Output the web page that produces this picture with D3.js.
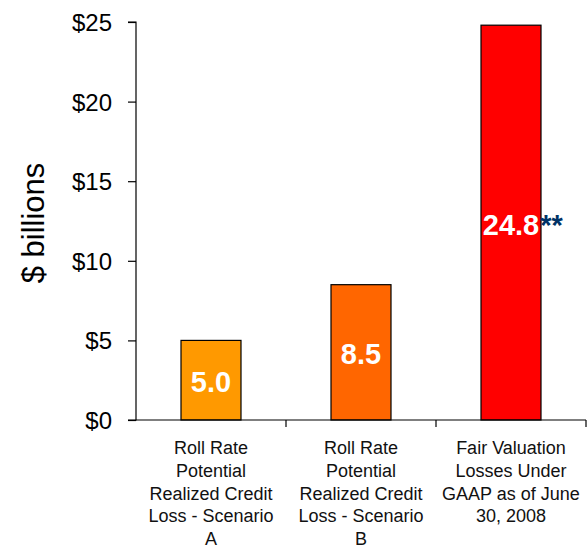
<!DOCTYPE html>
<html><head><meta charset="utf-8">
<script src="https://cdn.jsdelivr.net/npm/d3@7"></script>
<style>body{margin:0;background:#fff}svg{display:block}text{font-family:Arial,"Liberation Sans",sans-serif}</style>
</head><body><svg id="c" width="587" height="549"></svg>
<script>
const categories = [
  ["Roll Rate","Potential","Realized Credit","Loss - Scenario","A"],
  ["Roll Rate","Potential","Realized Credit","Loss - Scenario","B"],
  ["Fair Valuation","Losses Under","GAAP as of June","30, 2008"]
];
const values = [5.0, 8.5, 24.8];
const valueLabels = ["5.0","8.5","24.8"];
const suffixes = ["","","**"];
const colors = ["#FF9900","#FF6600","#FF0000"];
const yTicks = [0,5,10,15,20,25];

const svg = d3.select("#c");
const x0 = 136, x1 = 586, yTop = 22, yBot = 420;
const x = d3.scaleBand().domain(d3.range(categories.length)).range([x0,x1]).paddingInner(0.6).paddingOuter(0.3);
const xb = d3.scaleBand().domain(d3.range(categories.length)).range([x0,x1]);
const y = d3.scaleLinear().domain([0,25]).range([yBot,yTop]);

// bars
svg.selectAll("rect.bar").data(values).join("rect")
  .attr("x",(d,i)=>x(i)).attr("width",x.bandwidth())
  .attr("y",d=>y(d)).attr("height",d=>yBot-y(d))
  .attr("fill",(d,i)=>colors[i]).attr("stroke","#000").attr("stroke-width",1.2);

// y axis
const ya = d3.axisLeft(y).tickValues(yTicks).tickSize(8).tickFormat(d=>"$"+d);
const gy = svg.append("g").attr("transform",`translate(${x0},0)`).call(ya);
gy.select(".domain").attr("stroke","#000").attr("stroke-width",1.2).attr("d",`M-8,${yTop}H0V${yBot}H-8`);
gy.selectAll(".tick line").attr("stroke","#000").attr("stroke-width",1.2);
gy.selectAll(".tick text").attr("x",-24).attr("dy","0.35em").attr("font-size",24).attr("fill","#000").attr("font-family","Arial,'Liberation Sans',sans-serif");

// x axis
const gx = svg.append("g");
gx.append("line").attr("x1",x0).attr("x2",x1).attr("y1",yBot).attr("y2",yBot).attr("stroke","#000").attr("stroke-width",1.2);
gx.selectAll("line.t").data(d3.range(1,categories.length+1)).join("line")
  .attr("x1",i=>xb(i-1)+xb.bandwidth()).attr("x2",i=>xb(i-1)+xb.bandwidth())
  .attr("y1",yBot).attr("y2",yBot+7).attr("stroke","#000").attr("stroke-width",1.2);

// category labels
categories.forEach((lines,i)=>{
  const cx = xb(i)+xb.bandwidth()/2;
  const t = svg.append("text").attr("text-anchor","middle").attr("font-size",18).attr("fill","#111");
  lines.forEach((l,j)=>t.append("tspan").attr("x",cx).attr("y",454+j*22.8).text(l));
});

// value labels
values.forEach((v,i)=>{
  const cx = x(i)+x.bandwidth()/2;
  const cy = (y(v)+yBot)/2;
  const t = svg.append("text").attr("x",cx).attr("y",cy+12).attr("text-anchor","middle")
    .attr("font-size",29).attr("font-weight","bold").attr("fill","#fff").text(valueLabels[i]);
  if (suffixes[i]) {
    const w = t.node().getComputedTextLength();
    svg.append("text").attr("x",cx+w/2+1).attr("y",cy+12).attr("font-size",29).attr("font-weight","bold")
      .attr("fill","#003366").text(suffixes[i]);
  }
});

// y label
svg.append("text").attr("transform","translate(44,223) rotate(-90)").attr("text-anchor","middle")
  .attr("font-size",31).attr("fill","#000").text("$ billions");
</script></body></html>
